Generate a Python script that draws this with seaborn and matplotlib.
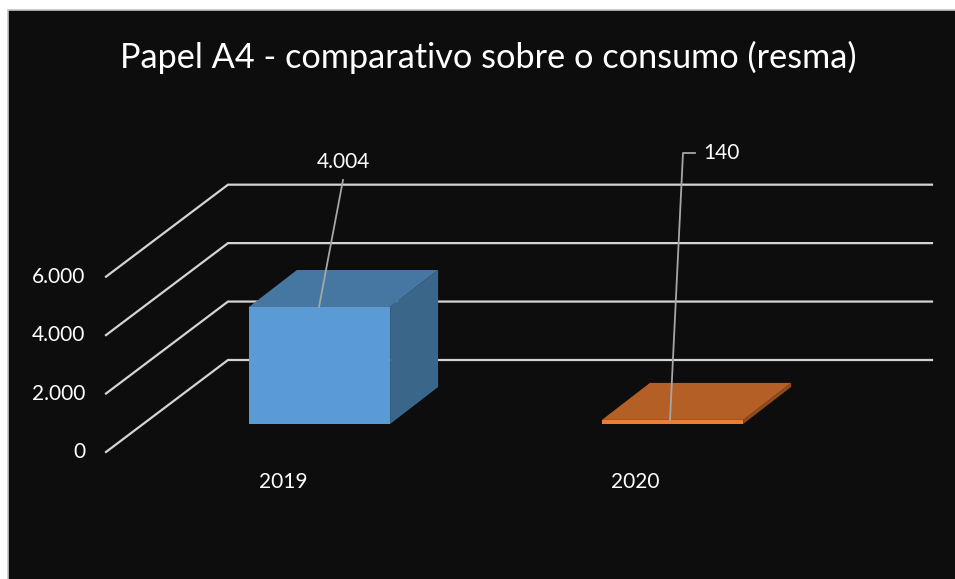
# Papel A4 - falso 3D sobre um barplot do seaborn
import matplotlib
matplotlib.use("Agg")
import matplotlib.pyplot as plt
from matplotlib.patches import Polygon, Rectangle
import seaborn as sb

anos = ["2019", "2020"]
consumo = [4004, 140]
rotulos = ["4.004", "140"]
eixo_y = [0, 2000, 4000, 6000]
eixo_y_txt = ["0", "2.000", "4.000", "6.000"]
titulo = "Papel A4 - comparativo sobre o consumo (resma)"

cor_frente = ["#5B9BD5", "#ED7D31"]
cor_topo = ["#4676A2", "#B45F25"]
cor_lado = ["#3A6689", "#8E4B1E"]
cor_fundo = "#0D0D0D"
cor_grade = "#D4D4D4"
cor_guia = "#A6A6A6"

# escala em pixels: x por categoria, y por unidade
PX_X = 353.0
PX_Y = 117.0 / 4004
X0 = 319.5
Y0 = 424.0


def dx(px):
    return px / PX_X


def dy(px):
    return px / PX_Y


def xp(px):
    return (px - X0) / PX_X


def yp(px):
    return (Y0 - px) / PX_Y


plt.rcParams["font.family"] = ["Lato", "DejaVu Sans"]
fig = plt.figure(figsize=(9.55, 5.79), dpi=100, facecolor="white")
fig.add_artist(Rectangle((7.5 / 955, -20 / 579), 970 / 955, 589 / 579, transform=fig.transFigure,
                         facecolor=cor_fundo, edgecolor="#C4C4C4", linewidth=1.2, zorder=-5))
ax = fig.add_axes([0, 0, 1, 1])
ax.patch.set_alpha(0)

sb.barplot(x=anos, y=consumo, hue=anos, palette=cor_frente, width=0.4,
           legend=False, saturation=1, ax=ax, zorder=3)

ax.set_xlim(xp(0), xp(955))
ax.set_ylim(yp(579), yp(0))
ax.axis("off")

# parede e grade
for v, txt in zip(eixo_y, eixo_y_txt):
    y = v + yp(452)
    ax.plot([xp(106), xp(228), xp(932)], [y, y + dy(92), y + dy(92)],
            color=cor_grade, lw=1.6, zorder=1, solid_joinstyle="miter")
    ax.text(xp(85), y, txt, color="white", fontsize=15, ha="right", va="center")

# faces de cima e do lado
for barra, topo, lado in zip(ax.patches, cor_topo, cor_lado):
    x1 = barra.get_x()
    x2 = x1 + barra.get_width()
    y1 = barra.get_y()
    y2 = y1 + barra.get_height()
    ax.add_patch(Polygon([(x1, y2), (x2, y2), (x2 + dx(48), y2 + dy(37)), (x1 + dx(48), y2 + dy(37))],
                         facecolor=topo, edgecolor="none", zorder=2.6))
    ax.add_patch(Polygon([(x2, y1), (x2, y2), (x2 + dx(48), y2 + dy(37)), (x2 + dx(48), y1 + dy(37))],
                         facecolor=lado, edgecolor="none", zorder=2.5))

# linhas guia dos rotulos
ax.plot([xp(319), xp(343)], [consumo[0], yp(180)], color=cor_guia, lw=1.3, zorder=4)
ax.plot([xp(670), xp(683), xp(695)], [consumo[1], yp(153), yp(153)], color=cor_guia, lw=1.3, zorder=4)

ax.text(xp(343), yp(162), rotulos[0], color="white", fontsize=15, ha="center", va="center")
ax.text(xp(703), yp(153), rotulos[1], color="white", fontsize=15, ha="left", va="center")

for i, ano in enumerate(anos):
    ax.text(xp(283) + i * dx(352), yp(482), ano, color="white", fontsize=15, ha="center", va="center")

ax.text(xp(488.5), yp(57), titulo, color="white", fontsize=24.7, ha="center", va="center")

fig.savefig("out.png", dpi=100, facecolor="white")
